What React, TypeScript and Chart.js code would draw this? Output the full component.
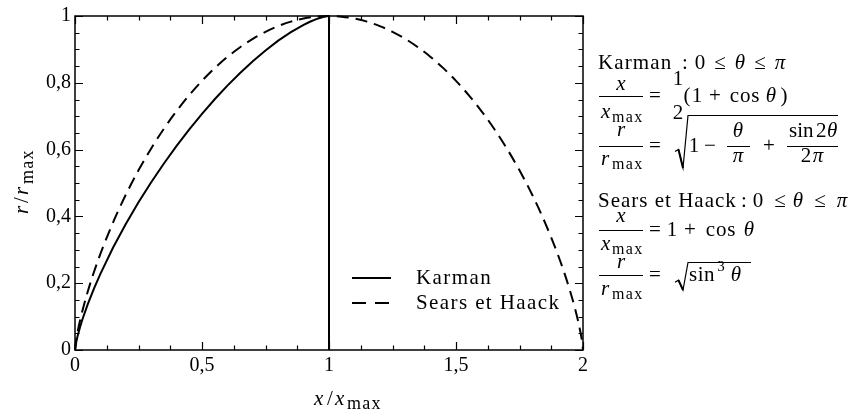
import React, { useEffect, useRef } from 'react';
import { Chart, registerables } from 'chart.js';

Chart.register(...registerables);

// ---- Data ----
const KARMAN_X = [0, 0.005, 0.01, 0.02, 0.03, 0.05, 0.075, 0.1, 0.15, 0.2, 0.25, 0.3, 0.35, 0.4, 0.45, 0.5, 0.55, 0.6, 0.65, 0.7, 0.75, 0.8, 0.85, 0.9, 0.925, 0.95, 0.97, 0.98, 0.99, 0.995, 1, 1];
const KARMAN_R = [0, 0.0245, 0.0411, 0.0691, 0.0935, 0.1367, 0.1846, 0.2281, 0.3067, 0.3773, 0.4422, 0.5023, 0.5585, 0.6112, 0.6606, 0.7071, 0.7507, 0.7915, 0.8295, 0.8647, 0.8969, 0.9261, 0.9518, 0.9736, 0.9828, 0.9906, 0.9956, 0.9976, 0.9992, 0.9997, 1, 0];

const SH_X = [0, 0.005, 0.01, 0.02, 0.03, 0.05, 0.075, 0.1, 0.15, 0.2, 0.25, 0.3, 0.35, 0.4, 0.45, 0.5, 0.55, 0.6, 0.65, 0.7, 0.75, 0.8, 0.85, 0.9, 0.95, 1, 1.05, 1.1, 1.15, 1.2, 1.25, 1.3, 1.35, 1.4, 1.45, 1.5, 1.55, 1.6, 1.65, 1.7, 1.75, 1.8, 1.85, 1.9, 1.925, 1.95, 1.97, 1.98, 1.99, 1.995, 2];
const SH_R = [0, 0.0316, 0.053, 0.0888, 0.1198, 0.1745, 0.2342, 0.2878, 0.3823, 0.4648, 0.5379, 0.6035, 0.6625, 0.7155, 0.7632, 0.8059, 0.8439, 0.8774, 0.9066, 0.9317, 0.9527, 0.9698, 0.9831, 0.9925, 0.9981, 1, 0.9981, 0.9925, 0.9831, 0.9698, 0.9527, 0.9317, 0.9066, 0.8774, 0.8439, 0.8059, 0.7632, 0.7155, 0.6625, 0.6035, 0.5379, 0.4648, 0.3823, 0.2878, 0.2342, 0.1745, 0.1198, 0.0888, 0.053, 0.0316, 0];

const SERIES_LABELS = ['Karman', 'Sears et Haack'];

const X_TICKS = [0, 0.5, 1, 1.5, 2];
const X_TICK_LABELS = ['0', '0,5', '1', '1,5', '2'];
const Y_TICKS = [0, 0.2, 0.4, 0.6, 0.8, 1];
const Y_TICK_LABELS = ['0', '0,2', '0,4', '0,6', '0,8', '1'];

const SERIF = '"Liberation Serif", "Times New Roman", serif';

type TOpt = { size?: number; italic?: boolean; align?: CanvasTextAlign; ls?: number };
function txt(ctx: CanvasRenderingContext2D, s: string, x: number, y: number, o: TOpt = {}) {
  ctx.save();
  ctx.font = `${o.italic ? 'italic ' : ''}${o.size ?? 21}px ${SERIF}`;
  ctx.textAlign = o.align ?? 'left';
  ctx.textBaseline = 'alphabetic';
  (ctx as any).letterSpacing = `${o.ls ?? 0}px`;
  ctx.fillStyle = '#000';
  ctx.fillText(s, x, y);
  ctx.restore();
}
function hbar(ctx: CanvasRenderingContext2D, x1: number, x2: number, y: number) {
  ctx.save();
  ctx.strokeStyle = '#000';
  ctx.lineWidth = 1;
  ctx.beginPath();
  ctx.moveTo(x1, y + 0.5);
  ctx.lineTo(x2, y + 0.5);
  ctx.stroke();
  ctx.restore();
}
function radical(ctx: CanvasRenderingContext2D, x: number, top: number, bottom: number, right: number) {
  ctx.save();
  ctx.strokeStyle = '#000';
  ctx.lineWidth = 1.2;
  ctx.beginPath();
  const mid = bottom - (bottom - top) * 0.35;
  ctx.moveTo(x, mid + 2);
  ctx.lineTo(x + 3.5, mid);
  ctx.lineTo(x + 8, bottom);
  ctx.lineTo(x + 13, top + 0.5);
  ctx.lineTo(right, top + 0.5);
  ctx.stroke();
  ctx.beginPath();
  ctx.lineWidth = 2;
  ctx.moveTo(x + 3.5, mid);
  ctx.lineTo(x + 8, bottom);
  ctx.stroke();
  ctx.restore();
}
// x/x_max or r/r_max fraction with bar at barY
function xFrac(ctx: CanvasRenderingContext2D, v: string, barY: number, numBase: number, denBase: number) {
  txt(ctx, v, 621, numBase, { italic: true, align: 'center' });
  hbar(ctx, 599, 643, barY);
  txt(ctx, v, 601, denBase, { italic: true });
  txt(ctx, 'max', 612, denBase + 4, { size: 16, ls: 1.3 });
}

const framePlugin = {
  id: 'frameTicks',
  afterDatasetsDraw(chart: any) {
    const { ctx, chartArea: a, scales } = chart;
    const xs = scales.x;
    const ys = scales.y;
    ctx.save();
    ctx.strokeStyle = '#000';
    ctx.lineWidth = 1.5;
    ctx.strokeRect(a.left, a.top, a.right - a.left, a.bottom - a.top);
    ctx.lineWidth = 1.2;
    const MAJ = 8;
    const MIN = 4.5;
    const xv = xs.ticks.map((t: any) => t.value);
    const yv = ys.ticks.map((t: any) => t.value);
    const drawX = (v: number, len: number) => {
      const p = Math.round(xs.getPixelForValue(v)) + 0.5;
      ctx.beginPath();
      ctx.moveTo(p, a.bottom);
      ctx.lineTo(p, a.bottom - len);
      ctx.moveTo(p, a.top);
      ctx.lineTo(p, a.top + len);
      ctx.stroke();
    };
    const drawY = (v: number, len: number) => {
      const p = Math.round(ys.getPixelForValue(v)) + 0.5;
      ctx.beginPath();
      ctx.moveTo(a.left, p);
      ctx.lineTo(a.left + len, p);
      ctx.moveTo(a.right, p);
      ctx.lineTo(a.right - len, p);
      ctx.stroke();
    };
    xv.forEach((v: number, i: number) => {
      drawX(v, MAJ);
      if (i < xv.length - 1) for (let k = 1; k < 4; k++) drawX(v + ((xv[i + 1] - v) * k) / 4, MIN);
    });
    yv.forEach((v: number, i: number) => {
      drawY(v, MAJ);
      if (i < yv.length - 1) for (let k = 1; k < 4; k++) drawY(v + ((yv[i + 1] - v) * k) / 4, MIN);
    });
    ctx.restore();
  },
};

const textPlugin = {
  id: 'texts',
  afterDraw(chart: any) {
    const ctx: CanvasRenderingContext2D = chart.ctx;
    // Legend
    chart.data.datasets.forEach((ds: any, i: number) => {
      const ly = 278 + i * 25;
      ctx.save();
      ctx.strokeStyle = '#000';
      ctx.lineWidth = ds.borderWidth;
      ctx.setLineDash(ds.borderDash && ds.borderDash.length ? [14, 9] : []);
      ctx.beginPath();
      ctx.moveTo(352, ly);
      ctx.lineTo(391, ly);
      ctx.stroke();
      ctx.restore();
      txt(ctx, ds.label, 416, ly + 5.5, { ls: 1.4 });
    });

    // Axis titles
    txt(ctx, 'x', 314, 405, { italic: true });
    txt(ctx, '/', 327, 405);
    txt(ctx, 'x', 335, 405, { italic: true });
    txt(ctx, 'max', 347, 409, { size: 18, ls: 1.2 });

    ctx.save();
    ctx.translate(28, 178);
    ctx.rotate(-Math.PI / 2);
    txt(ctx, 'r', -36, 0, { italic: true });
    txt(ctx, '/', -25, 0);
    txt(ctx, 'r', -17, 0, { italic: true });
    txt(ctx, 'max', -6, 5, { size: 18, ls: 1.2 });
    ctx.restore();

    // ---- Karman block ----
    txt(ctx, 'Karman', 598, 69, { ls: 1.1 });
    txt(ctx, ':', 685, 69, { align: 'center' });
    txt(ctx, '0', 700, 69, { align: 'center' });
    txt(ctx, '\u2264', 720, 69, { align: 'center' });
    txt(ctx, '\u03b8', 740, 69, { italic: true, align: 'center' });
    txt(ctx, '\u2264', 760, 69, { align: 'center' });
    txt(ctx, '\u03c0', 780, 69, { italic: true, align: 'center' });

    xFrac(ctx, 'x', 96, 90, 118);
    txt(ctx, '=', 655, 102, { align: 'center' });
    txt(ctx, '1', 678, 85, { align: 'center' });
    txt(ctx, '2', 678, 119, { align: 'center' });
    txt(ctx, '(', 687, 102, { align: 'center' });
    txt(ctx, '1', 697, 102, { align: 'center' });
    txt(ctx, '+', 715, 102, { align: 'center' });
    txt(ctx, 'cos', 745, 102, { align: 'center', ls: 0.8 });
    txt(ctx, '\u03b8', 771, 102, { italic: true, align: 'center' });
    txt(ctx, ')', 784, 102, { align: 'center' });

    xFrac(ctx, 'r', 146, 136, 165);
    txt(ctx, '=', 655, 152, { align: 'center' });
    radical(ctx, 675, 115, 168, 838);
    txt(ctx, '1', 694, 152, { align: 'center' });
    txt(ctx, '\u2212', 710, 152, { align: 'center' });
    txt(ctx, '\u03b8', 738, 137, { italic: true, align: 'center' });
    hbar(ctx, 727, 750, 146);
    txt(ctx, '\u03c0', 738, 162, { italic: true, align: 'center' });
    txt(ctx, '+', 769, 152, { align: 'center' });
    txt(ctx, 'sin', 789, 137);
    txt(ctx, '2', 816, 137);
    txt(ctx, '\u03b8', 827, 137, { italic: true });
    hbar(ctx, 787, 838, 146);
    txt(ctx, '2', 806, 162, { align: 'center' });
    txt(ctx, '\u03c0', 818, 162, { italic: true, align: 'center' });

    // ---- Sears et Haack block ----
    txt(ctx, 'Sears et Haack', 598, 207, { ls: 1.0 });
    txt(ctx, ':', 744, 207, { align: 'center' });
    txt(ctx, '0', 758, 207, { align: 'center' });
    txt(ctx, '\u2264', 780, 207, { align: 'center' });
    txt(ctx, '\u03b8', 798, 207, { italic: true, align: 'center' });
    txt(ctx, '\u2264', 820, 207, { align: 'center' });
    txt(ctx, '\u03c0', 842, 207, { italic: true, align: 'center' });

    xFrac(ctx, 'x', 230, 222, 250);
    txt(ctx, '=', 655, 236, { align: 'center' });
    txt(ctx, '1', 672, 236, { align: 'center' });
    txt(ctx, '+', 690, 236, { align: 'center' });
    txt(ctx, 'cos', 721, 236, { align: 'center', ls: 0.8 });
    txt(ctx, '\u03b8', 749, 236, { italic: true, align: 'center' });

    xFrac(ctx, 'r', 275, 268, 295);
    txt(ctx, '=', 655, 281, { align: 'center' });
    radical(ctx, 675, 262, 290, 751);
    txt(ctx, 'sin', 702, 281, { align: 'center', ls: 0.5 });
    txt(ctx, '3', 721, 271, { size: 15, align: 'center' });
    txt(ctx, '\u03b8', 736, 281, { italic: true, align: 'center' });
  },
};

export default function App() {
  const ref = useRef<HTMLCanvasElement | null>(null);

  useEffect(() => {
    if (!ref.current) return;
    const karman = KARMAN_X.map((x, i) => ({ x, y: KARMAN_R[i] }));
    const sh = SH_X.map((x, i) => ({ x, y: SH_R[i] }));
    const tickFont = { family: SERIF, size: 20 };
    const chart = new Chart(ref.current, {
      type: 'line',
      data: {
        datasets: [
          {
            label: SERIES_LABELS[0],
            data: karman,
            borderColor: '#000',
            borderWidth: 2,
            pointRadius: 0,
            tension: 0,
            fill: false,
            clip: false as any,
          },
          {
            label: SERIES_LABELS[1],
            data: sh,
            borderColor: '#000',
            borderWidth: 2,
            borderDash: [12, 7],
            pointRadius: 0,
            cubicInterpolationMode: 'monotone',
            fill: false,
            clip: false as any,
          },
        ],
      },
      options: {
        animation: false,
        responsive: false,
        maintainAspectRatio: false,
        devicePixelRatio: 1,
        layout: { padding: { left: 0, top: 12, right: 275, bottom: 0 } },
        plugins: { legend: { display: false }, tooltip: { enabled: false } },
        scales: {
          x: {
            type: 'linear',
            min: 0,
            max: 2,
            grid: { display: false, drawTicks: false },
            border: { display: false },
            afterBuildTicks: (s: any) => {
              s.ticks = X_TICKS.map((v) => ({ value: v }));
            },
            afterFit: (s: any) => {
              s.height = 67;
            },
            ticks: {
              autoSkip: false,
              maxRotation: 0,
              padding: 4,
              color: '#000',
              font: tickFont,
              callback: (v: any) => X_TICK_LABELS[X_TICKS.indexOf(Number(v))] ?? '',
            },
          },
          y: {
            type: 'linear',
            min: 0,
            max: 1,
            grid: { display: false, drawTicks: false },
            border: { display: false },
            afterBuildTicks: (s: any) => {
              s.ticks = Y_TICKS.map((v) => ({ value: v }));
            },
            afterFit: (s: any) => {
              s.width = 75;
            },
            ticks: {
              autoSkip: false,
              padding: 4,
              color: '#000',
              font: tickFont,
              callback: (v: any) => Y_TICK_LABELS[Y_TICKS.indexOf(Number(v))] ?? '',
            },
          },
        },
      },
      plugins: [framePlugin, textPlugin],
    } as any);
    return () => chart.destroy();
  }, []);

  return (
    <div style={{ position: 'fixed', left: 0, top: 0, width: 858, height: 417, background: '#fff' }}>
      <canvas ref={ref} width={858} height={417} style={{ display: 'block', width: 858, height: 417 }} />
    </div>
  );
}
